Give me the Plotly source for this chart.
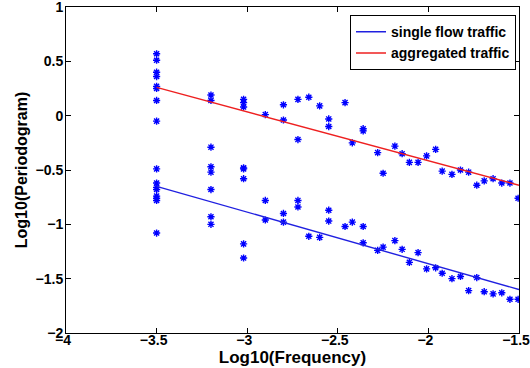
import plotly.graph_objects as go

# Aggregated traffic (upper cloud)
agg_x = [-3.5, -3.5, -3.5, -3.5, -3.5, -3.5, -3.5, -3.5,
         -3.2, -3.2, -3.02, -3.02, -3.02, -2.9, -2.8, -2.8,
         -2.72, -2.72, -2.66, -2.6, -2.55, -2.55, -2.46, -2.42,
         -2.36, -2.36, -2.28, -2.25, -2.185, -2.145, -2.105, -2.057,
         -2.01, -1.96, -1.924, -1.87, -1.823, -1.778, -1.733, -1.692,
         -1.643, -1.595, -1.55, -1.505]
agg_y = [0.57, 0.51, 0.40, 0.36, 0.27, 0.25, 0.14, -0.05,
         0.19, 0.14, 0.15, 0.12, 0.08, 0.01, 0.10, -0.04,
         0.15, -0.22, 0.17, 0.09, -0.03, -0.10, 0.12, -0.25,
         -0.12, -0.14, -0.34, -0.53, -0.28, -0.35, -0.43, -0.43,
         -0.37, -0.31, -0.51, -0.54, -0.50, -0.52, -0.64, -0.60,
         -0.58, -0.62, -0.62, -0.76]

# Single flow traffic (lower cloud)
single_x = [-3.5, -3.5, -3.5, -3.5, -3.5, -3.5, -3.5, -3.5,
            -3.2, -3.2, -3.2, -3.2, -3.2, -3.2,
            -3.02, -3.02, -3.02, -3.02, -3.02,
            -2.9, -2.9, -2.8, -2.8, -2.72, -2.72, -2.66, -2.6,
            -2.55, -2.55, -2.46, -2.42, -2.36, -2.36, -2.28, -2.25,
            -2.185, -2.145, -2.105, -2.057, -2.01, -1.96, -1.924, -1.87,
            -1.823, -1.778, -1.733, -1.692, -1.643, -1.595, -1.55, -1.505]
single_y = [-0.49, -0.62, -0.66, -0.68, -0.74, -0.76, -0.78, -1.08,
            -0.29, -0.47, -0.52, -0.68, -0.93, -1.00,
            -0.48, -0.49, -0.58, -1.18, -1.31,
            -0.78, -0.96, -0.90, -0.98, -0.78, -0.84, -1.11, -1.12,
            -0.87, -0.97, -1.02, -0.98, -1.02, -1.17, -1.24, -1.21,
            -1.15, -1.23, -1.35, -1.26, -1.41, -1.40, -1.45, -1.50,
            -1.48, -1.61, -1.49, -1.62, -1.64, -1.63, -1.69, -1.69]

# Fitted lines (endpoints)
fit_x = [-3.5, -1.5]
single_fit_y = [-0.65, -1.60]
agg_fit_y = [0.26, -0.64]

x_ticks = [-4, -3.5, -3, -2.5, -2, -1.5]
y_ticks = [-2, -1.5, -1, -0.5, 0, 0.5, 1]

FONT = "Liberation Sans, Arial, sans-serif"
marker = dict(symbol="asterisk-open", size=6, color="#0000ff",
              line=dict(color="#0000ff", width=1.4))

fig = go.Figure()
fig.add_trace(go.Scatter(x=agg_x, y=agg_y, mode="markers", marker=marker,
                         showlegend=False, hoverinfo="skip"))
fig.add_trace(go.Scatter(x=single_x, y=single_y, mode="markers", marker=marker,
                         showlegend=False, hoverinfo="skip"))
fig.add_trace(go.Scatter(x=fit_x, y=single_fit_y, mode="lines",
                         line=dict(color="#2020e0", width=1.4),
                         name="single flow traffic"))
fig.add_trace(go.Scatter(x=fit_x, y=agg_fit_y, mode="lines",
                         line=dict(color="#ee2020", width=1.4),
                         name="aggregated traffic"))

axis_common = dict(showgrid=False, zeroline=False, showline=True,
                   linecolor="black", linewidth=1, mirror="ticks",
                   ticks="inside", ticklen=5, tickcolor="black",
                   ticklabeloverflow="allow", automargin=False,
                   tickfont=dict(family=FONT, size=14, color="black", weight="bold"))

fig.update_xaxes(range=[-4, -1.5], tickvals=x_ticks,
                 ticklabelstandoff=-6, ticklabelshift=-3,
                 title=dict(text="Log10(Frequency)", standoff=2,
                            font=dict(family=FONT, size=17, color="black", weight="bold")),
                 **axis_common)
fig.update_yaxes(range=[-2, 1], tickvals=y_ticks,
                 ticklabelstandoff=-1,
                 title=dict(text="Log10(Periodogram)", standoff=3,
                            font=dict(family=FONT, size=16, color="black", weight="bold")),
                 **axis_common)

fig.update_layout(
    width=530, height=368,
    margin=dict(l=66, r=11, t=7, b=35),
    paper_bgcolor="white", plot_bgcolor="white",
    font=dict(family=FONT, color="black"),
    legend=dict(x=0.9934, y=0.975, xanchor="right", yanchor="top",
                bgcolor="white", bordercolor="black", borderwidth=1,
                font=dict(family=FONT, size=14, color="black", weight="bold"),
                tracegroupgap=0, itemwidth=30),
)

fig.write_html("out.html")
